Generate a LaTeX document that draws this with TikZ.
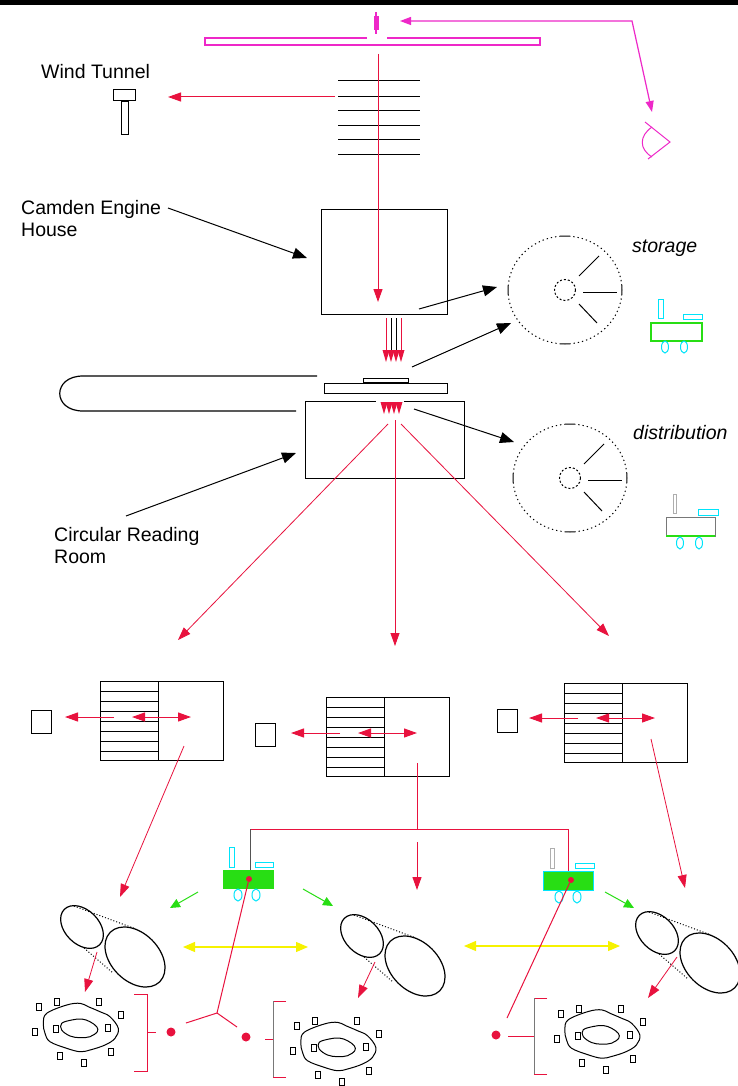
\documentclass[tikz,border=0pt]{standalone}
\usepackage{fontspec}
\setmainfont{Liberation Sans}
\usetikzlibrary{arrows.meta,calc}

\definecolor{lred}{RGB}{232,18,62}
\definecolor{lpink}{RGB}{238,40,200}
\definecolor{lgreen}{RGB}{40,222,20}
\definecolor{lcyan}{RGB}{0,228,250}
\definecolor{lyellow}{RGB}{246,242,0}
\definecolor{lgray}{RGB}{120,120,120}

\tikzset{
  lbl/.style={font=\fontsize{19.5}{22.5}\selectfont, inner sep=0pt, align=left},
  ilbl/.style={font=\fontsize{19.5}{22}\selectfont\itshape, inner sep=0pt},
  box/.style={draw=black, line width=1pt, inner sep=0pt},
  redline/.style={draw=lred, line width=1pt},
  redarr/.style={draw=lred, line width=1pt, -{Triangle[length=13pt,width=9pt]}, lred},
  redbi/.style={draw=lred, line width=1pt, {Triangle[length=13pt,width=9pt]}-{Triangle[length=13pt,width=9pt]}, lred},
  blkarr/.style={draw=black, line width=1pt, -{Triangle[length=14pt,width=11pt]}},
  grnarr/.style={draw=lgreen, line width=1pt, -{Triangle[length=10pt,width=9pt]}, lgreen},
  yelbi/.style={draw=lyellow, line width=1.2pt, {Triangle[length=12pt,width=10pt]}-{Triangle[length=12pt,width=10pt]}, lyellow},
  pinkbi/.style={draw=lpink, line width=1.2pt, {Triangle[length=11pt,width=8pt]}-{Triangle[length=11pt,width=8pt]}, lpink},
  discline/.style={line width=1pt, dash phase=5.5pt, dash pattern=on 11pt off 3pt on 1.3pt off 3pt on 1.3pt off 3pt on 1.3pt off 3pt on 1.3pt off 3pt on 1.3pt off 3pt on 1.3pt off 3pt on 1.3pt off 3pt on 1.3pt off 3pt on 1.3pt off 3pt on 1.3pt off 3pt on 1.3pt off 3pt on 1.3pt off 3pt on 1.3pt off 3pt on 1.3pt off 3pt on 1.3pt off 3pt on 1.3pt off 3pt on 1.3pt off 3pt},
  tube/.style={line width=1.2pt},
  tangent/.style={line width=1pt, dotted},
  sq/.style={draw=black, line width=1pt, minimum width=5pt, minimum height=7pt, inner sep=0pt},
  reddot/.style={circle, fill=lred, minimum size=9pt, inner sep=0pt},
}

\begin{document}
\begin{tikzpicture}[x=1pt,y=-1pt]
\useasboundingbox (0,0) rectangle (738,1086);
\fill[white] (0,0) rectangle (738,1086);
\fill[black] (0,0) rectangle (738,5);

% ---------------- top: projector and viewer ----------------
\draw[lpink, line width=1.2pt] (205,45) rectangle (540,38);
\fill[white] (367,36.5) rectangle (387,39.5);
\draw[lpink, line width=1.2pt] (376,12) -- (376,34);
\fill[lpink] (373.5,16) rectangle (378.5,30);
\coordinate (lens) at (400,21);
\coordinate (corner) at (632,21);
\coordinate (eyein) at (652,112);
\draw[pinkbi] (lens) -- (corner) -- (eyein);
\draw[lpink, line width=1pt] (645,122) -- (670,142) -- (648,159);
\draw[lpink, line width=1pt] (652,127) .. controls (639,136) and (639,149) .. (652,157);

% louvre stack with the beam passing through
\foreach \yy in {80.5,96.5,110.5,125.5,139.5,154.5}
  \draw[line width=1.1pt] (338,\yy) -- (420,\yy);
\coordinate (beamtop) at (378,54);

% wind tunnel
\node[lbl, anchor=west] (windlbl) at (41,72) {Wind Tunnel};
\draw[line width=1pt] (113,90) rectangle (135,101);
\node[draw=black, line width=1pt, minimum width=7pt, minimum height=33pt, inner sep=0pt, anchor=north] (tunnel) at (124.5,101) {};
\coordinate (stackleft) at (335,97);
\coordinate (tunneltip) at (168,97);
\draw[redarr] (stackleft) -- (tunneltip);

% ---------------- Camden Engine House ----------------
\node[box, minimum width=126pt, minimum height=105pt] (camden) at (384,261.5) {};
\coordinate (beamend) at (378,302);
\draw[redarr] (beamtop) -- (beamend);
\node[lbl, anchor=north west] (camlbl) at (21,200) {Camden Engine\\House};
\coordinate (camfrom) at (168,208);
\coordinate (camto) at (307,258);
\draw[blkarr] (camfrom) -- (camto);

% bundle of beams dropping to the plates
\foreach \xx/\cc in {386/lred,391/black,396/black,401/lred}
  \draw[\cc, line width=1pt] (\xx,318) -- (\xx,352);
\foreach \xx in {386,391,396,401}
  \fill[lred] (\xx-3.5,350) -- (\xx+3.5,350) -- (\xx,362) -- cycle;

% plates and the loop
\node[draw=black, line width=1pt, minimum width=45pt, minimum height=4pt, inner sep=0pt] (topplate) at (385.5,380) {};
\node[box, minimum width=123pt, minimum height=10pt] (plate) at (385.5,388) {};
\draw[line width=1.2pt] (317,376) -- (83,376) .. controls (52,376) and (52,411) .. (83,411) -- (296,411);

% ---------------- Circular Reading Room ----------------
\node[box, minimum width=159pt, minimum height=77pt] (reading) at (384.5,439.5) {};
\fill[white] (376,399) rectangle (404,403);
\foreach \xx in {384,389,394,399}
  \fill[lred] (\xx-3.5,402) -- (\xx+3.5,402) -- (\xx,414) -- cycle;
\node[lbl, anchor=north west] (crrlbl) at (54,527) {Circular Reading\\Room};
\coordinate (crrfrom) at (126,516);
\coordinate (crrto) at (296,453);
\draw[blkarr] (crrfrom) -- (crrto);

% ---------------- storage / distribution discs ----------------
\foreach \cx/\cy/\nm in {565/290/stor, 570/478/dist}{
  \draw[discline] (\cx,\cy) ellipse [x radius=57, y radius=54];
  \draw[line width=1pt, dash pattern=on 2pt off 2pt] (\cx,\cy) circle (10.5);
  \draw[line width=1pt] (\cx+14,\cy-14) -- (\cx+34,\cy-34);
  \draw[line width=1pt] (\cx+18,\cy+2) -- (\cx+52,\cy+2);
  \draw[line width=1pt] (\cx+14,\cy+14) -- (\cx+32,\cy+33);
  \coordinate (\nm) at (\cx,\cy);
}
\node[ilbl, anchor=west] (storlbl) at (632,248) {storage};
\node[ilbl, anchor=west] (distlbl) at (633,433) {distribution};

\coordinate (s1from) at (419,309);
\coordinate (s1to) at (497,287);
\coordinate (s2from) at (412,367);
\coordinate (s2to) at (511,323);
\coordinate (d1from) at (414,409);
\coordinate (d1to) at (514,442);
\draw[blkarr] (s1from) -- (s1to);
\draw[blkarr] (s2from) -- (s2to);
\draw[blkarr] (d1from) -- (d1to);

% storage trolley
\draw[lcyan, line width=1pt] (658,299) rectangle (663,318);
\draw[lcyan, line width=1pt] (683,314) rectangle (702,319);
\draw[lgreen, line width=1.2pt] (651,323) rectangle (702,341);
\draw[lcyan, line width=1pt] (665,347) ellipse [x radius=3.5, y radius=6];
\draw[lcyan, line width=1pt] (684,347) ellipse [x radius=3.5, y radius=6];

% distribution trolley
\draw[lgray!60, line width=1pt] (673,494) rectangle (676,513);
\draw[lcyan, line width=1pt] (698,509) rectangle (718,515);
\draw[lgray, line width=1pt] (666,517) rectangle (715,536);
\draw[lgreen, line width=1.2pt] (666,536) -- (715,536);
\draw[lcyan, line width=1pt] (680,543) ellipse [x radius=3.5, y radius=6];
\draw[lcyan, line width=1pt] (699,543) ellipse [x radius=3.5, y radius=6];

% ---------------- fan out to the three reading blocks ----------------
\coordinate (fanL) at (388,424);
\coordinate (fanM) at (395,420);
\coordinate (fanR) at (401,424);
\coordinate (tipL) at (178,640);
\coordinate (tipM) at (395,646);
\coordinate (tipR) at (609,636);
\draw[redarr, line width=0.8pt] (fanL) -- (tipL);
\draw[redarr, line width=0.8pt] (fanM) -- (tipM);
\draw[redarr, line width=0.8pt] (fanR) -- (tipR);

% ---------------- reading blocks ----------------
\foreach \nm/\xx/\yy/\sx/\sy/\ay in {L/100/681/31/710/717, M/326/697/255/723/733, R/564/683/497/709/718}{
  \node[box, minimum width=123pt, minimum height=79pt, anchor=north west] (blk\nm) at (\xx,\yy) {};
  \draw[line width=1pt] ($(blk\nm.north west)+(58,0)$) -- ($(blk\nm.south west)+(58,0)$);
  \foreach \k in {1,...,7}
    \draw[line width=1pt] ($(blk\nm.north west)!\k/8!(blk\nm.south west)$) -- ++(58,0);
  \node[draw=black, line width=1pt, minimum width=20pt, minimum height=23pt, inner sep=0pt, anchor=north west] (sq\nm) at (\sx,\sy) {};
  \coordinate (lo\nm) at (\xx+14,\ay);
  \coordinate (lt\nm) at (\xx-35,\ay);
  \coordinate (ba\nm) at (\xx+32,\ay);
  \coordinate (bb\nm) at (\xx+91,\ay);
  \draw[redarr] (lo\nm) -- (lt\nm);
  \draw[redbi] (ba\nm) -- (bb\nm);
}

% ---------------- tubes (cylinders) ----------------
\foreach \dx/\dy/\nm in {0/0/L, 280/9/M, 575/6/R}{
  \begin{scope}[shift={(\dx,\dy)}]
    \draw[tube, rotate around={-45:(82,927)}] (82,927) ellipse [x radius=25, y radius=17];
    \draw[tube, rotate around={-45:(135,957)}] (135,957) ellipse [x radius=35, y radius=24];
    \draw[tangent] (74,906) -- (136,929);
    \draw[tangent] (84,948) -- (113,973);
    \coordinate (tube\nm) at (108,942);
  \end{scope}
}

% block to tube connectors
\coordinate (bLfrom) at (184,746);
\coordinate (bLto) at (120,897);
\draw[redarr, line width=0.8pt] (bLfrom) -- (bLto);
\coordinate (bRfrom) at (651,739);
\coordinate (bRto) at (685,888);
\draw[redarr, line width=0.8pt] (bRfrom) -- (bRto);
\coordinate (bMfrom) at (417,763);
\coordinate (bMbus) at (417,829);
\draw[redline] (bMfrom) -- (bMbus);
\coordinate (busL) at (250,829);
\coordinate (busR) at (568,829);
\draw[redline] (busL) -- (busR);
\coordinate (mdrop) at (417,842);
\coordinate (mdropto) at (417,890);
\draw[redarr] (mdrop) -- (mdropto);

% ---------------- bottom trolleys ----------------
% left trolley
\draw[lcyan, line width=1pt] (229,847) rectangle (234,867);
\draw[lcyan, line width=1pt] (255,862) rectangle (273,867);
\node[draw=lgreen, fill=lgreen, line width=1pt, minimum width=50pt, minimum height=18pt, inner sep=0pt, anchor=north west] (cartL) at (223,870) {};
\draw[lcyan, line width=1pt] (238,895) ellipse [x radius=4, y radius=6];
\draw[lcyan, line width=1pt] (256,895) ellipse [x radius=4, y radius=6];
\draw[lgray!70!black, line width=1pt] (busL) -- (cartL.north -| busL);
% right trolley
\draw[lgray!60, line width=1pt] (550,848) rectangle (554,868);
\draw[lcyan, line width=1pt] (575,863) rectangle (594,868);
\node[draw=lcyan, fill=lgreen, line width=1.2pt, minimum width=50pt, minimum height=19pt, inner sep=0pt, anchor=north west] (cartR) at (543,871) {};
\draw[lcyan, line width=1pt] (559,897) ellipse [x radius=4, y radius=6];
\draw[lcyan, line width=1pt] (577,897) ellipse [x radius=4, y radius=6];
\draw[redline] (busR) -- (cartR.north -| busR);

% green arrows from trolleys
\coordinate (g1a) at (198,892); \coordinate (g1b) at (170,908);
\coordinate (g2a) at (303,889); \coordinate (g2b) at (333,906);
\coordinate (g3a) at (605,892); \coordinate (g3b) at (634,908);
\draw[grnarr] (g1a) -- (g1b);
\draw[grnarr] (g2a) -- (g2b);
\draw[grnarr] (g3a) -- (g3b);

% yellow links between tubes
\coordinate (y1a) at (183,947); \coordinate (y1b) at (308,947);
\coordinate (y2a) at (464,946); \coordinate (y2b) at (620,946);
\draw[yelbi] (y1a) -- (y1b);
\draw[yelbi] (y2a) -- (y2b);

% ---------------- islands ----------------
\foreach \dx/\dy/\nm in {0/0/L, 257.5/19/M, 521.5/6.5/R}{
  \begin{scope}[shift={(\dx,\dy)}]
    \draw[line width=1pt] plot[smooth cycle, tension=0.6] coordinates {(46.7,1013.3) (66.7,1005) (80,1003.3) (88.3,1006.7) (100,1011.7) (110,1016.7) (118.3,1028.3) (115,1038.3) (105,1045) (90,1050) (80,1051.7) (66.7,1048.3) (50,1041.7) (45,1033.3) (43.3,1023.3)};
    \draw[line width=1pt] plot[smooth cycle, tension=0.6] coordinates {(61.7,1023.3) (71.7,1020) (81.7,1019) (90,1021.7) (96.7,1026.7) (97.3,1031.7) (90,1036.7) (80,1037.7) (70,1036) (61.7,1030)};
    \foreach \px/\py in {39/1007, 57/1002, 99/1002, 121/1015, 35/1032, 56/1029, 108/1028, 60/1056, 111/1052, 84/1063}
      \node[sq] at (\px,\py) {};
    \coordinate (isl\nm) at (80,1028);
  \end{scope}
}

% tube to island connectors
\coordinate (tLa) at (97,952); \coordinate (tLb) at (85,992);
\coordinate (tMa) at (375,962); \coordinate (tMb) at (358,998);
\coordinate (tRa) at (677,957); \coordinate (tRb) at (648,998);
\draw[redarr, line width=0.8pt] (tLa) -- (tLb);
\draw[redarr, line width=0.8pt] (tMa) -- (tMb);
\draw[redarr, line width=0.8pt] (tRa) -- (tRb);

% ---------------- brackets and signal dots ----------------
\draw[redline] (134,994) -- (147,994) -- (147,1071) -- (134,1071);
\draw[redline] (147,1032) -- (156,1032);
\draw[lred, line width=1pt] (286,1001) -- (273,1001);
\draw[lred, line width=1pt] (286,1077) -- (273,1077);
\draw[lgray, line width=1pt] (273,1001) -- (273,1077);
\draw[redline] (265,1039) -- (273,1039);
\draw[lred, line width=1pt] (547,998) -- (534,998);
\draw[lred, line width=1pt] (547,1074) -- (534,1074);
\draw[lgray, line width=1pt] (534,998) -- (534,1074);
\draw[redline] (508,1036) -- (534,1036);

\node[reddot] (dot1) at (171,1032) {};
\node[reddot] (dot2) at (246,1037) {};
\node[reddot] (dot3) at (496,1035) {};
\node[reddot, minimum size=6pt] (srcL) at (249,879) {};
\node[reddot, minimum size=6pt] (srcR) at (571,880) {};
\coordinate (fork) at (217,1013);
\coordinate (forkL) at (186,1023);
\coordinate (forkR) at (237,1027);
\coordinate (rfork) at (507,1018);
\draw[redline] (srcL) -- (fork);
\draw[redline] (fork) -- (forkL);
\draw[redline] (fork) -- (forkR);
\draw[redline] (srcR) -- (rfork);
\end{tikzpicture}
\end{document}
